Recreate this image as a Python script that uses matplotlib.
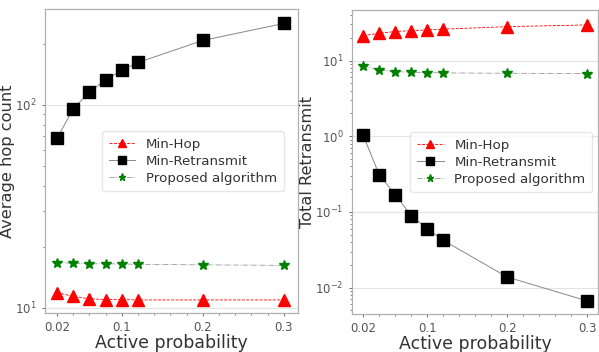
import matplotlib
matplotlib.use("Agg")
import matplotlib.pyplot as plt
from matplotlib.ticker import MultipleLocator, FixedLocator, LogLocator, NullFormatter

x = [0.02, 0.04, 0.06, 0.08, 0.10, 0.12, 0.20, 0.30]
xticks = [0.02, 0.1, 0.2, 0.3]
xticklabels = ["0.02", "0.1", "0.2", "0.3"]

hop_minhop = [11.9, 11.4, 11.1, 11.0, 11.0, 10.95, 10.95, 10.95]
hop_minretx = [68.3, 95.2, 115.9, 132.3, 148.1, 161.6, 207.5, 251.6]
hop_prop = [16.7, 16.6, 16.5, 16.5, 16.45, 16.4, 16.3, 16.2]

rt_minhop = [21.4, 23.0, 24.2, 24.9, 25.4, 26.0, 28.1, 29.6]
rt_minretx = [1.03, 0.311, 0.170, 0.0895, 0.0602, 0.0422, 0.0138, 0.00667]
rt_prop = [8.5, 7.5, 7.16, 7.01, 6.94, 6.87, 6.8, 6.73]

labels = ["Min-Hop", "Min-Retransmit", "Proposed algorithm"]

fig = plt.figure(figsize=(5.99, 3.52), dpi=100)
ax1 = fig.add_axes([0.075, 0.111, 0.422, 0.864])
ax2 = fig.add_axes([0.588, 0.108, 0.411, 0.864])

tick_col = "#555555"
spine_col = "#b0b0b0"

def draw(ax, a, b, c, ylim, xlim, ylabel, ylab_x, leg_anchor):
    ax.plot(x, a, color="red", ls="--", lw=0.6, marker="^", ms=8, mec="red", label=labels[0])
    ax.plot(x, b, color="#888888", ls="-", lw=0.7, marker="s", ms=8, mfc="black", mec="black", label=labels[1])
    ax.plot(x, c, color="#999999", ls="-.", lw=0.6, marker="*", ms=7, mfc="green", mec="green", label=labels[2])
    ax.set_yscale("log")
    ax.set_ylim(*ylim)
    ax.set_xlim(*xlim)
    ax.xaxis.set_major_locator(FixedLocator(xticks))
    ax.set_xticklabels(xticklabels)
    ax.xaxis.set_minor_locator(MultipleLocator(0.02))
    ax.yaxis.set_minor_locator(LogLocator(base=10, subs=range(2, 10)))
    ax.yaxis.set_minor_formatter(NullFormatter())
    ax.grid(True, axis="y", which="major", color="#e3e3e3", lw=0.8)
    ax.set_axisbelow(True)
    for s in ax.spines.values():
        s.set_color(spine_col)
        s.set_linewidth(0.9)
    ax.tick_params(axis="both", which="major", labelsize=8.5, colors=tick_col, length=2.5, width=0.6)
    ax.tick_params(axis="both", which="minor", colors=tick_col, length=1.5, width=0.5)
    ax.set_xlabel("Active probability", fontsize=12.5, color="#333333", labelpad=0)
    ax.set_ylabel(ylabel, fontsize=11.7, color="#333333")
    ax.yaxis.set_label_coords(ylab_x, 0.5)
    leg = ax.legend(loc="upper right", bbox_to_anchor=leg_anchor, fontsize=9.6,
                    frameon=True, framealpha=0.8, edgecolor="#e0e0e0", fancybox=True,
                    handlelength=2.0, borderpad=0.5, labelspacing=0.3, markerscale=0.75)
    for t in leg.get_texts():
        t.set_color("#333333")

draw(ax1, hop_minhop, hop_minretx, hop_prop, (9.45, 297), (0.0052, 0.317),
     "Average hop count", -0.119, (0.971, 0.62))
draw(ax2, rt_minhop, rt_minretx, rt_prop, (0.00449, 46.8), (0.0063, 0.3138),
     "Total Retransmit", -0.15, (1.002, 0.62))

fig.savefig("out.png", dpi=100)
